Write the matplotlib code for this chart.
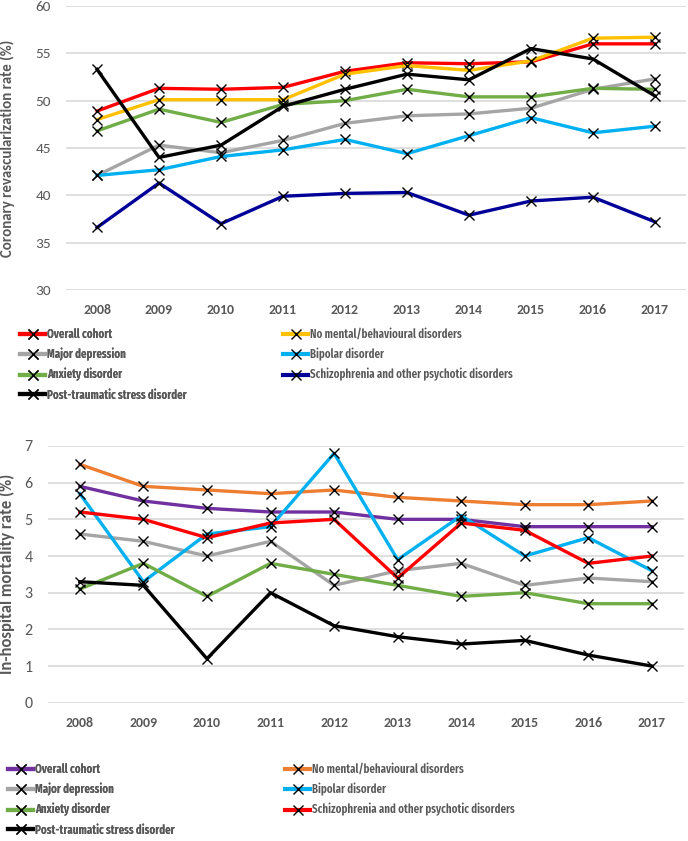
import matplotlib
matplotlib.use("Agg")
import matplotlib.pyplot as plt

plt.rcParams["font.family"] = ["Carlito", "DejaVu Sans"]

years = ["2008", "2009", "2010", "2011", "2012", "2013", "2014", "2015", "2016", "2017"]
labels = [
    "Overall cohort",
    "No mental/behavioural disorders",
    "Major depression",
    "Bipolar disorder",
    "Anxiety disorder",
    "Schizophrenia and other psychotic disorders",
    "Post-traumatic stress disorder",
]

# coronary revascularization rate (%)
revasc_overall = [48.9, 51.3, 51.2, 51.4, 53.1, 54.0, 53.9, 54.1, 56.0, 56.0]
revasc_none = [48.0, 50.1, 50.1, 50.1, 52.8, 53.7, 53.2, 54.2, 56.6, 56.7]
revasc_depression = [42.1, 45.3, 44.5, 45.8, 47.6, 48.4, 48.6, 49.2, 51.2, 52.3]
revasc_bipolar = [42.1, 42.7, 44.1, 44.8, 45.9, 44.4, 46.3, 48.2, 46.6, 47.3]
revasc_anxiety = [46.8, 49.1, 47.7, 49.6, 50.0, 51.2, 50.4, 50.4, 51.3, 51.2]
revasc_schizo = [36.6, 41.3, 37.0, 39.9, 40.2, 40.3, 37.9, 39.4, 39.8, 37.2]
revasc_ptsd = [53.3, 44.0, 45.3, 49.4, 51.2, 52.8, 52.2, 55.5, 54.4, 50.5]

# in-hospital mortality rate (%)
mort_overall = [5.9, 5.5, 5.3, 5.2, 5.2, 5.0, 5.0, 4.8, 4.8, 4.8]
mort_none = [6.5, 5.9, 5.8, 5.7, 5.8, 5.6, 5.5, 5.4, 5.4, 5.5]
mort_depression = [4.6, 4.4, 4.0, 4.4, 3.2, 3.6, 3.8, 3.2, 3.4, 3.3]
mort_bipolar = [5.7, 3.3, 4.6, 4.8, 6.8, 3.9, 5.1, 4.0, 4.5, 3.6]
mort_anxiety = [3.1, 3.8, 2.9, 3.8, 3.5, 3.2, 2.9, 3.0, 2.7, 2.7]
mort_schizo = [5.2, 5.0, 4.5, 4.9, 5.0, 3.4, 4.9, 4.7, 3.8, 4.0]
mort_ptsd = [3.3, 3.2, 1.2, 3.0, 2.1, 1.8, 1.6, 1.7, 1.3, 1.0]

top_colors = ["#FF0000", "#FFC000", "#A5A5A5", "#00B0F0", "#70AD47", "#000099", "#000000"]
bottom_colors = ["#7030A0", "#ED7D31", "#A5A5A5", "#00B0F0", "#70AD47", "#FF0000", "#000000"]

grey = "#595959"
grid = "#D9D9D9"

fig = plt.figure(figsize=(6.88, 8.41), dpi=100)
ax1 = fig.add_axes([0.096, 0.6552, 0.901, 0.3377])
ax2 = fig.add_axes([0.0698, 0.1644, 0.924, 0.3053])


def draw(ax, series, colors, ylim, step, ylabel, ylabel_size, ytick_size):
    x = list(range(len(years)))
    handles = []
    for vals, c in zip(series, colors):
        h, = ax.plot(x, vals, color=c, lw=2.4, marker="x", markersize=7,
                     markeredgecolor="black", markeredgewidth=1.0, zorder=3)
        handles.append(h)
    ax.set_xlim(-0.5, len(years) - 0.5)
    ax.set_ylim(*ylim)
    ax.set_yticks([ylim[0] + i * step for i in range(int((ylim[1] - ylim[0]) / step) + 1)])
    ax.set_xticks(x)
    ax.set_xticklabels(years, fontweight="bold")
    ax.grid(axis="y", color=grid, lw=1.2)
    ax.set_axisbelow(True)
    for s in ax.spines.values():
        s.set_visible(False)
    ax.tick_params(axis="both", length=0, colors=grey, labelsize=10)
    ax.tick_params(axis="y", pad=11, labelsize=ytick_size)
    ax.tick_params(axis="x", pad=10)
    ax.set_ylabel(ylabel, color=grey, fontsize=ylabel_size, fontweight="bold")
    return handles


h1 = draw(ax1, [revasc_overall, revasc_none, revasc_depression, revasc_bipolar,
                revasc_anxiety, revasc_schizo, revasc_ptsd],
          top_colors, (30, 60), 5, "Coronary revascularization rate (%)", 10.7, 11)
ax1.yaxis.set_label_coords(-0.083, 0.5)

h2 = draw(ax2, [mort_overall, mort_none, mort_depression, mort_bipolar,
                mort_anxiety, mort_schizo, mort_ptsd],
          bottom_colors, (0, 7), 1, "In-hospital mortality rate (%)", 12, 11.5)
ax2.yaxis.set_label_coords(-0.052, 0.5)


def legend(handles, x1, x2, ytop):
    left = [0, 2, 4, 6]
    right = [1, 3, 5]
    kw = dict(frameon=False, loc="upper left", handlelength=2.15, handletextpad=0.17,
              labelspacing=0.62, borderaxespad=0, borderpad=0,
              prop={"family": "Fira Sans Extra Condensed", "size": 8.5, "weight": 600},
              labelcolor=grey)
    lg1 = fig.legend([handles[i] for i in left], [labels[i] for i in left],
                     bbox_to_anchor=(x1 / 688, 1 - ytop / 841), **kw)
    lg2 = fig.legend([handles[i] for i in right], [labels[i] for i in right],
                     bbox_to_anchor=(x2 / 688, 1 - ytop / 841), **kw)
    for lg in (lg1, lg2):
        for ln in lg.get_lines():
            ln.set_linewidth(3.0)
    fig.add_artist(lg1)


legend(h1, 20, 283, 328)
legend(h2, 8, 285, 763)

fig.savefig("out.png", dpi=100)
